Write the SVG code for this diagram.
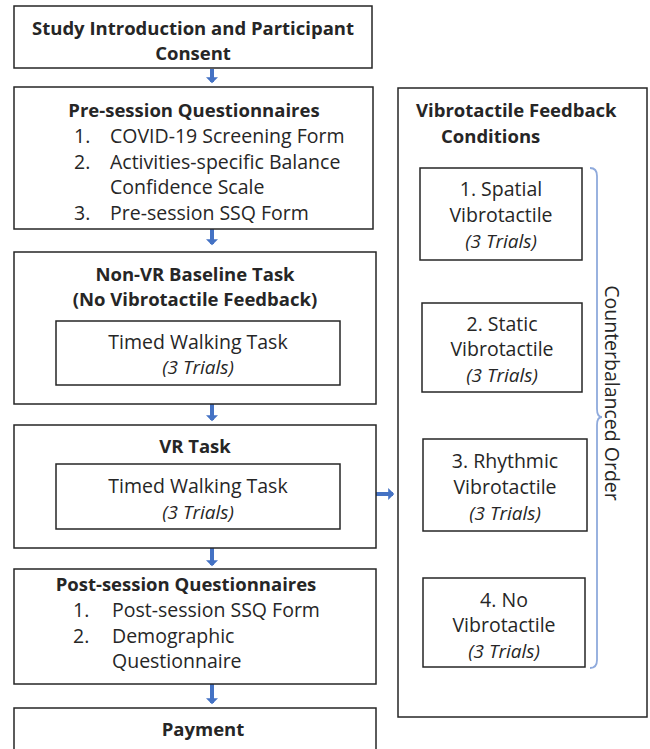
<svg xmlns="http://www.w3.org/2000/svg" width="650" height="749" viewBox="0 0 650 749">
<style>
text{font-family:"Open Sans","Liberation Sans",sans-serif;fill:#262626;font-size:19.5px}
.b{font-weight:bold;font-size:18.5px}
.c{text-anchor:middle}
.i{font-style:italic;font-size:19px}
.box{fill:#fff;stroke:#262626;stroke-width:1.5}
.conn{stroke:#4472C4;stroke-width:4;fill:none}
.brace{stroke:#8FAADC;stroke-width:1.8;fill:none}
</style>
<defs>
<marker id="ah" markerWidth="3" markerHeight="3" refX="1.2" refY="1.5" orient="auto" markerUnits="strokeWidth">
<path d="M0,0 L1.5,1.5 L0,3 Z" fill="#4472C4"/>
</marker>
</defs>
<rect width="650" height="749" fill="#fff"/>
<g id="connectors">
<line class="conn" x1="212" y1="69" x2="212" y2="82" marker-end="url(#ah)"/>
<line class="conn" x1="212" y1="229" x2="212" y2="244" marker-end="url(#ah)"/>
<line class="conn" x1="212" y1="404" x2="212" y2="420" marker-end="url(#ah)"/>
<line class="conn" x1="212" y1="548" x2="212" y2="565" marker-end="url(#ah)"/>
<line class="conn" x1="212" y1="684" x2="212" y2="703" marker-end="url(#ah)"/>
<line class="conn" x1="340" y1="494" x2="393" y2="494" marker-end="url(#ah)"/>
</g>
<g id="consent">
<rect class="box" x="14" y="6" width="358" height="62"/>
<text class="b c" x="193" y="35">Study Introduction and Participant</text>
<text class="b c" x="193" y="60">Consent</text>
</g>
<g id="pre-session">
<rect class="box" x="14" y="87" width="359" height="142"/>
<text class="b c" x="194" y="117">Pre-session Questionnaires</text>
<text x="74" y="143">1.</text><text x="110" y="143">COVID-19 Screening Form</text>
<text x="74" y="169">2.</text><text x="110" y="169">Activities-specific Balance</text>
<text x="110" y="194">Confidence Scale</text>
<text x="74" y="220">3.</text><text x="110" y="220">Pre-session SSQ Form</text>
</g>
<g id="non-vr">
<rect class="box" x="14" y="252" width="362" height="152"/>
<text class="b c" x="195" y="281">Non-VR Baseline Task</text>
<text class="b c" x="195" y="306">(No Vibrotactile Feedback)</text>
<rect class="box" x="56" y="321" width="284" height="64"/>
<text class="c" x="198" y="349">Timed Walking Task</text>
<text class="c i" x="198" y="374">(3 Trials)</text>
</g>
<g id="vr">
<rect class="box" x="14" y="425" width="362" height="123"/>
<text class="b c" x="195" y="453">VR Task</text>
<rect class="box" x="56" y="464" width="284" height="65"/>
<text class="c" x="198" y="493">Timed Walking Task</text>
<text class="c i" x="198" y="519">(3 Trials)</text>
</g>
<g id="post-session">
<rect class="box" x="14" y="569" width="362" height="115"/>
<text class="b c" x="186" y="591">Post-session Questionnaires</text>
<text x="73" y="617">1.</text><text x="112" y="617">Post-session SSQ Form</text>
<text x="73" y="643">2.</text><text x="112" y="643">Demographic</text>
<text x="112" y="668">Questionnaire</text>
</g>
<g id="payment">
<rect class="box" x="14" y="708" width="362" height="50"/>
<text class="b c" x="203" y="736">Payment</text>
</g>
<g id="conditions">
<rect class="box" x="398" y="88" width="249" height="629"/>
<text class="b" x="416" y="117">Vibrotactile Feedback</text>
<text class="b" x="441" y="143">Conditions</text>
</g>
<g id="spatial">
<rect class="box" x="420" y="168" width="162" height="92"/>
<text class="c" x="501" y="196">1. Spatial</text>
<text class="c" x="501" y="222">Vibrotactile</text>
<text class="c i" x="501" y="248">(3 Trials)</text>
</g>
<g id="static">
<rect class="box" x="422" y="303" width="160" height="89"/>
<text class="c" x="502" y="331">2. Static</text>
<text class="c" x="502" y="356">Vibrotactile</text>
<text class="c i" x="502" y="382">(3 Trials)</text>
</g>
<g id="rhythmic">
<rect class="box" x="423" y="439" width="164" height="92"/>
<text class="c" x="505" y="468">3. Rhythmic</text>
<text class="c" x="505" y="494">Vibrotactile</text>
<text class="c i" x="505" y="520">(3 Trials)</text>
</g>
<g id="none">
<rect class="box" x="423" y="578" width="162" height="89"/>
<text class="c" x="504" y="607">4. No</text>
<text class="c" x="504" y="632">Vibrotactile</text>
<text class="c i" x="504" y="658">(3 Trials)</text>
</g>
<g id="counterbalanced">
<path class="brace" d="M590,168 Q597,168 597,176 L597,409 Q597,417 602,417 Q597,417 597,425 L597,660 Q597,668 590,668"/>
<text class="c" transform="translate(605,393) rotate(90)" x="0" y="0">Counterbalanced Order</text>
</g>
</svg>
